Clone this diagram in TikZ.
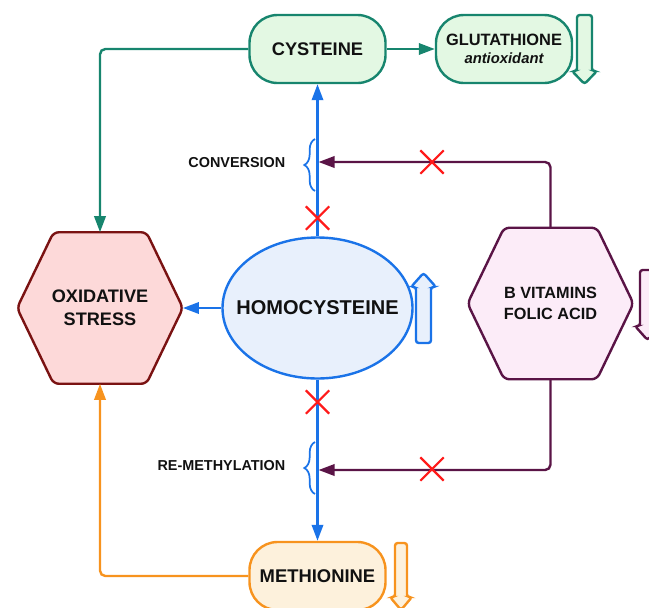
\documentclass[tikz,border=0pt]{standalone}
\usepackage{fontspec}
\setmainfont{Liberation Sans}
\usetikzlibrary{arrows.meta,shapes.geometric,shapes.misc,decorations.pathreplacing,calc,backgrounds}
\definecolor{tealc}{HTML}{17856E}
\definecolor{greenf}{HTML}{E3F8E3}
\definecolor{bluec}{HTML}{1A73E8}
\definecolor{bluef}{HTML}{E8F0FC}
\definecolor{redc}{HTML}{7A1212}
\definecolor{redf}{HTML}{FDD9D9}
\definecolor{purpc}{HTML}{5A1446}
\definecolor{purpf}{HTML}{FCECF8}
\definecolor{orangec}{HTML}{F7931E}
\definecolor{orangef}{HTML}{FDF1DC}
\definecolor{xred}{HTML}{FF1A1A}
\definecolor{txt}{HTML}{111111}
\begin{document}
\begin{tikzpicture}[x=0.75pt,y=-0.75pt,
  every node/.style={text=txt},
  pill/.style={rectangle, rounded corners=21pt, minimum width=102pt, minimum height=51pt, line width=1.8pt, inner sep=0pt, align=center},
  hexbox/.style={rectangle, minimum width=124pt, minimum height=113.25pt, inner sep=0pt, align=center},
  hexline/.style={line width=1.8pt, rounded corners=4pt},
  conn/.style={line width=1.8pt, rounded corners=4pt},
  tip/.style={-{Triangle[length=12pt,width=8.5pt]}},
  fatarrow/.style={line width=1.8pt, rounded corners=2pt},
  xmark/.style={cross out, draw=xred, line width=1.6pt, minimum width=16pt, minimum height=16pt, inner sep=0pt},
  bracestyle/.style={draw=bluec, line width=1.3pt, decorate, decoration={brace, amplitude=8pt}},
  lbl/.style={anchor=east, font=\bfseries\fontsize{10.8}{13}\selectfont}
]
\useasboundingbox (0,0) rectangle (649,607);
\clip (0,0) rectangle (649,607);

% main nodes
\node[pill, draw=tealc, fill=greenf, font=\bfseries\fontsize{13.7}{16}\selectfont] (cys) at (317.5,49) {CYSTEINE};
\node[pill, draw=tealc, fill=greenf] (glu) at (504,49)
  {\bfseries\fontsize{12.3}{14.5}\selectfont GLUTATHIONE\\[1.5pt]\bfseries\itshape\fontsize{11.1}{13}\selectfont antioxidant};
\node[pill, draw=orangec, fill=orangef, font=\bfseries\fontsize{13.8}{16}\selectfont] (meth) at (317.5,576) {METHIONINE};
\node[ellipse, draw=bluec, fill=bluef, line width=1.8pt, minimum width=142.5pt, minimum height=105.75pt, inner sep=0pt] (homo) at (317.5,308) {};
\node[font=\bfseries\fontsize{15}{17}\selectfont] (homotxt) at (homo.center) {HOMOCYSTEINE};
\node[hexbox, font=\bfseries\fontsize{13.6}{17}\selectfont] (ox) at (100,308) {OXIDATIVE\\STRESS};
\node[hexbox, font=\bfseries\fontsize{12.2}{15.75}\selectfont] (bv) at (550.5,303.5) {B VITAMINS\\FOLIC ACID};

\begin{scope}[on background layer]
\draw[hexline, draw=redc, fill=redf] (ox.west) -- ($(ox.north west)!0.22!(ox.north east)$) -- ($(ox.north west)!0.78!(ox.north east)$) -- (ox.east) -- ($(ox.south west)!0.78!(ox.south east)$) -- ($(ox.south west)!0.22!(ox.south east)$) -- cycle;
\draw[hexline, draw=purpc, fill=purpf] (bv.west) -- ($(bv.north west)!0.22!(bv.north east)$) -- ($(bv.north west)!0.78!(bv.north east)$) -- (bv.east) -- ($(bv.south west)!0.78!(bv.south east)$) -- ($(bv.south west)!0.22!(bv.south east)$) -- cycle;
\end{scope}

% fat outline arrows
\draw[fatarrow, draw=tealc, fill=greenf] (577,15) -- (592,15) -- (592,71) -- (597,71) -- (584.5,84) -- (572,71) -- (577,71) -- cycle;
\draw[fatarrow, draw=bluec, fill=bluef] (416,343) -- (416,287) -- (411,287) -- (423.5,273) -- (436,287) -- (431,287) -- (431,343) -- cycle;
\draw[fatarrow, draw=orangec, fill=orangef] (395,543) -- (407,543) -- (407,597) -- (412,597) -- (401,610) -- (390,597) -- (395,597) -- cycle;
\draw[fatarrow, draw=purpc, fill=purpf] (640,270) -- (655,270) -- (655,326) -- (660,326) -- (647.5,340) -- (635,326) -- (640,326) -- cycle;

% connectors
\draw[conn, tip, draw=tealc] (cys.east) -- (glu.west);
\draw[conn, tip, draw=tealc] (cys.west) -| (ox.north);
\draw[conn, tip, draw=orangec] (meth.west) -| (ox.south);
\draw[conn, tip, draw=bluec] (homo.north) -- (cys.south);
\draw[conn, tip, draw=bluec] (homo.south) -- (meth.north);
\draw[conn, tip, draw=bluec] (homo.west) -- (ox.east);

\coordinate (convend) at (318.5,162);
\coordinate (remend) at (318.5,470);
\draw[conn, tip, draw=purpc] (bv.north) |- (convend);
\draw[conn, tip, draw=purpc] (bv.south) |- (remend);

% braces and labels
\coordinate (cb1) at (315,191);
\coordinate (cb2) at (315,139);
\coordinate (rb1) at (315,494);
\coordinate (rb2) at (315,442);
\draw[bracestyle] (cb1) -- (cb2);
\draw[bracestyle] (rb1) -- (rb2);
\node[lbl] (convlbl) at (290,163) {CONVERSION};
\node[lbl] (remlbl) at (290,466) {RE-METHYLATION};

% red crosses
\node[xmark] (x1) at (317.5,218) {};
\node[xmark] (x2) at (432,162) {};
\node[xmark] (x3) at (317.5,402) {};
\node[xmark] (x4) at (432,469) {};
\end{tikzpicture}
\end{document}
